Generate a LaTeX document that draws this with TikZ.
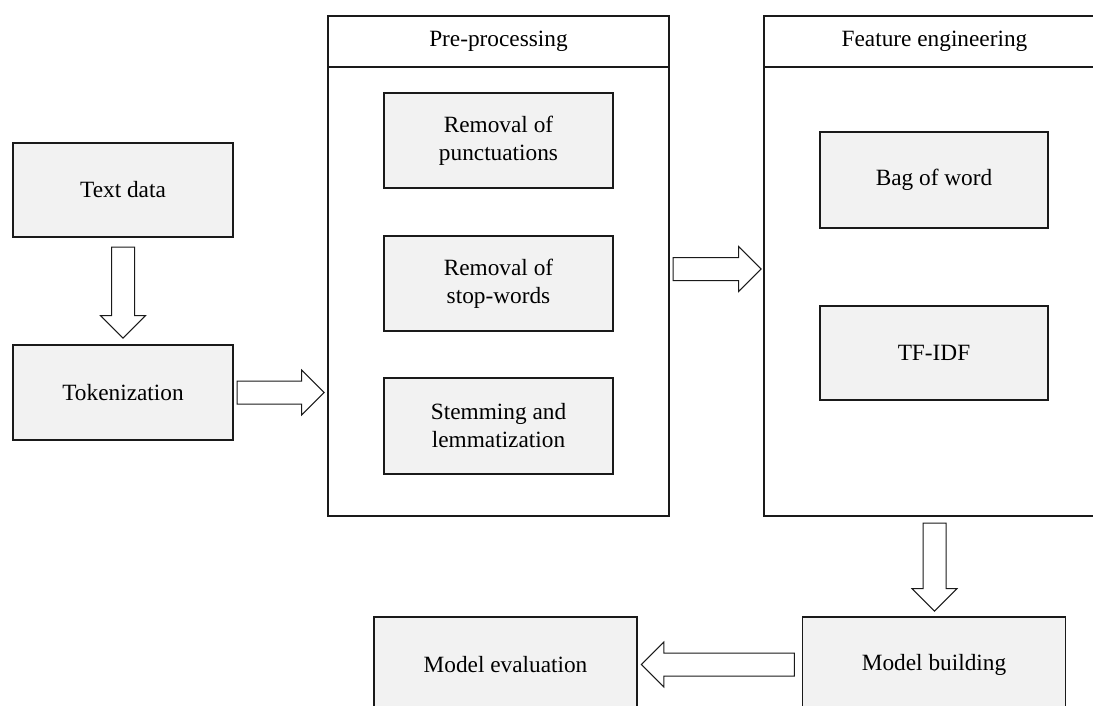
\documentclass[tikz,border=0pt]{standalone}
\usepackage{fontspec}
\setmainfont{Liberation Serif}
\usetikzlibrary{shapes.arrows,calc}
\definecolor{boxgray}{HTML}{F2F2F2}
\definecolor{linec}{HTML}{1A1A1A}
\tikzset{
  gbox/.style={draw=linec, line width=1.2pt, fill=boxgray, align=center, inner sep=0pt,
    font=\fontsize{23.3}{28}\selectfont},
  frame/.style={draw=linec, line width=1.2pt, inner sep=0pt},
  headbox/.style={draw=linec, line width=1.2pt, inner sep=0pt, font=\fontsize{23.3}{28}\selectfont},
  blk/.style={single arrow, draw=linec, line width=1pt, fill=white, inner sep=11pt,
    minimum width=0pt, single arrow head extend=11pt, single arrow tip angle=90, anchor=tail}
}
\begin{document}
\begin{tikzpicture}[x=1pt,y=-1pt]
\useasboundingbox (0,0) rectangle (1093,706);
\clip (0,0) rectangle (1093,706);
% left column
\node[gbox, minimum width=220pt, minimum height=94pt] (text) at (123,190) {Text data};
\node[gbox, minimum width=220pt, minimum height=95pt] (tok) at (123,392.5) {Tokenization};
% pre-processing container
\node[frame, minimum width=341pt, minimum height=500pt] (pre) at (498.5,266) {};
\node[headbox, minimum width=341pt, minimum height=51pt] (prehead) at (498.5,41.5) {Pre-processing};
\node[gbox, minimum width=229pt, minimum height=95pt] (punc) at (498.5,140.5) {Removal of\\punctuations};
\node[gbox, minimum width=229pt, minimum height=95pt] (stop) at (498.5,283.5) {Removal of\\stop-words};
\node[gbox, minimum width=229pt, minimum height=96pt] (stem) at (498.5,426) {Stemming and\\lemmatization};
% feature engineering container
\node[frame, minimum width=341pt, minimum height=500pt] (fe) at (934.5,266) {};
\node[headbox, minimum width=341pt, minimum height=51pt] (fehead) at (934.5,41.5) {Feature engineering};
\node[gbox, minimum width=228pt, minimum height=96pt] (bow) at (934,180) {Bag of word};
\node[gbox, minimum width=228pt, minimum height=94pt] (tfidf) at (934,353) {TF-IDF};
% bottom row
\node[gbox, minimum width=263pt, minimum height=95pt] (mb) at (934,664.5) {Model building};
\node[gbox, minimum width=263pt, minimum height=95pt] (me) at (505.5,664.5) {Model evaluation};
% block arrows
\node[blk, minimum height=91pt, rotate=-90] (a1) at ($(text.south)+(0,9)$) {};
\node[blk, minimum height=87pt] (a2) at ($(tok.east)+(3,0)$) {};
\node[blk, minimum height=88pt] (a3) at ($(pre.east)+(3,3)$) {};
\node[blk, minimum height=88pt, rotate=-90] (a4) at ($(fe.south)+(0,6)$) {};
\node[blk, minimum height=153pt, rotate=180] (a5) at ($(mb.west)+(-7,0)$) {};
\end{tikzpicture}
\end{document}
